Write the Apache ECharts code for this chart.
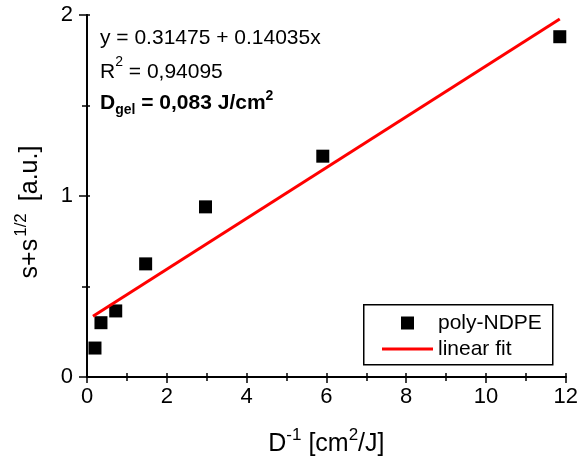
<!DOCTYPE html>
<html>
<head>
<meta charset="utf-8">
<script src="https://cdn.jsdelivr.net/npm/echarts@6/dist/echarts.min.js"></script>
<style>html,body{margin:0;padding:0;background:#fff}#c{width:581px;height:466px}</style>
</head>
<body>
<div id="c"></div>
<script>
// measured points (D^-1, s+s^1/2)
const xValues = [0.2, 0.35, 0.72, 1.47, 2.97, 5.91, 11.85];
const yValues = [0.16, 0.30, 0.365, 0.625, 0.94, 1.22, 1.88];
// fit line endpoints
const fitX = [0.15, 11.85];
const fitY = [0.3358, 1.9779];
const xTicks = [0, 2, 4, 6, 8, 10, 12];
const yTicks = [0, 1, 2];
const seriesNames = ['poly-NDPE', 'linear fit'];

const FONT = '"Liberation Sans", Arial, sans-serif';
const pts = xValues.map((x, i) => [x, yValues[i]]);
const fit = fitX.map((x, i) => [x, fitY[i]]);

const chart = echarts.init(document.getElementById('c'), null, {renderer: 'canvas'});
const axisLine = {show: true, lineStyle: {color: '#000', width: 1.8}};
const base = {
  axisLine: axisLine,
  splitLine: {show: false},
  minorSplitLine: {show: false}
};
const titleRich = {
  a: {fontFamily: FONT, fontSize: 25, color: '#000', lineHeight: 30, verticalAlign: 'bottom'},
  s: {fontFamily: FONT, fontSize: 17, color: '#000', lineHeight: 16, verticalAlign: 'top'},
  t: {fontFamily: FONT, fontSize: 17, color: '#000', lineHeight: 16, verticalAlign: 'top', padding: [0, 12, 0, 2]}
};
const legendText = {fontFamily: FONT, fontSize: 21, color: '#000', lineHeight: 24};
chart.setOption({
  animation: false,
  backgroundColor: '#fff',
  grid: {left: 87, right: 12, top: 15, bottom: 89},
  xAxis: [
    Object.assign({}, base, {
      type: 'value', position: 'bottom', min: xTicks[0], max: xTicks[xTicks.length - 1], interval: 2,
      axisTick: {show: true, inside: false, length: 6, lineStyle: {color: '#000', width: 1.5}},
      minorTick: {show: true, splitNumber: 2, length: 4, lineStyle: {color: '#000', width: 1.5}},
      axisLabel: {color: '#000', fontFamily: FONT, fontSize: 22, margin: 9},
      name: '{a|D}{s|-1}{a| [cm}{s|2}{a|/J]}',
      nameLocation: 'middle', nameGap: 50,
      nameTextStyle: {rich: titleRich}
    }),
    Object.assign({}, base, {
      type: 'value', position: 'top', min: xTicks[0], max: xTicks[xTicks.length - 1], interval: 2,
      axisTick: {show: true, inside: false, length: 4, lineStyle: {color: '#000', width: 1.5}},
      minorTick: {show: true, splitNumber: 2, length: 4, lineStyle: {color: '#000', width: 1.5}},
      axisLabel: {show: false}
    })
  ],
  yAxis: [
    Object.assign({}, base, {
      type: 'value', position: 'left', min: yTicks[0], max: yTicks[yTicks.length - 1], interval: 1,
      axisTick: {show: true, inside: false, length: 8, lineStyle: {color: '#000', width: 1.5}},
      minorTick: {show: true, splitNumber: 2, length: 5, lineStyle: {color: '#000', width: 1.5}},
      axisLabel: {color: '#000', fontFamily: FONT, fontSize: 22, margin: 14},
      name: '{a|s+s}{t|1/2}{a|[a.u.]}',
      nameLocation: 'middle', nameGap: 44, nameRotate: 90,
      nameTextStyle: {rich: titleRich, padding: [0, 32, 0, 0]}
    }),
    Object.assign({}, base, {
      type: 'value', position: 'right', min: yTicks[0], max: yTicks[yTicks.length - 1], interval: 1,
      axisTick: {show: true, inside: false, length: 3, lineStyle: {color: '#000', width: 1.5}},
      minorTick: {show: true, splitNumber: 2, length: 3, lineStyle: {color: '#000', width: 1.5}},
      axisLabel: {show: false}
    })
  ],
  legend: [
    {
      left: 401, top: 311, orient: 'vertical', padding: 0, z: 10,
      itemWidth: 13, itemHeight: 13,
      textStyle: Object.assign({}, legendText, {padding: [0, 0, 0, 19]}),
      data: [{name: seriesNames[0], icon: 'rect'}]
    },
    {
      left: 382, top: 337, orient: 'vertical', padding: 0, z: 10,
      itemWidth: 51, itemHeight: 3,
      textStyle: legendText,
      data: [{name: seriesNames[1], icon: 'rect'}]
    }
  ],
  graphic: [
    {type: 'rect', left: 363, top: 304, z: 1, silent: true,
      shape: {width: 189, height: 60},
      style: {fill: '#fff', stroke: '#000', lineWidth: 1.5}},
    {type: 'text', left: 100, top: 28, z: 100, style: {
      text: 'y = 0.31475 + 0.14035x', fontFamily: FONT, fontSize: 21, fill: '#000'}},
    {type: 'text', left: 100, top: 55, z: 100, style: {
      text: '{a|R}{s|2}{a| = 0,94095}',
      rich: {
        a: {fontFamily: FONT, fontSize: 21, fill: '#000', lineHeight: 28, verticalAlign: 'bottom'},
        s: {fontFamily: FONT, fontSize: 14, fill: '#000', lineHeight: 14, verticalAlign: 'top'}
      }}},
    {type: 'text', left: 100, top: 89, z: 100, style: {
      text: '{a|D}{b|gel}{a| = 0,083 J/cm}{s|2}',
      rich: {
        a: {fontFamily: FONT, fontSize: 21, fontWeight: 'bold', fill: '#000', lineHeight: 28, verticalAlign: 'middle'},
        b: {fontFamily: FONT, fontSize: 14, fontWeight: 'bold', fill: '#000', lineHeight: 12, verticalAlign: 'bottom'},
        s: {fontFamily: FONT, fontSize: 14, fontWeight: 'bold', fill: '#000', lineHeight: 12, verticalAlign: 'top'}
      }}}
  ],
  series: [
    {
      name: seriesNames[0], type: 'scatter', data: pts, symbol: 'rect', symbolSize: 13,
      itemStyle: {color: '#000', opacity: 1}, clip: false, z: 3
    },
    {
      name: seriesNames[1], type: 'line', data: fit, showSymbol: false, symbol: 'none',
      lineStyle: {color: '#ff0000', width: 3}, itemStyle: {color: '#ff0000'}, z: 4
    }
  ]
});
</script>
</body>
</html>
